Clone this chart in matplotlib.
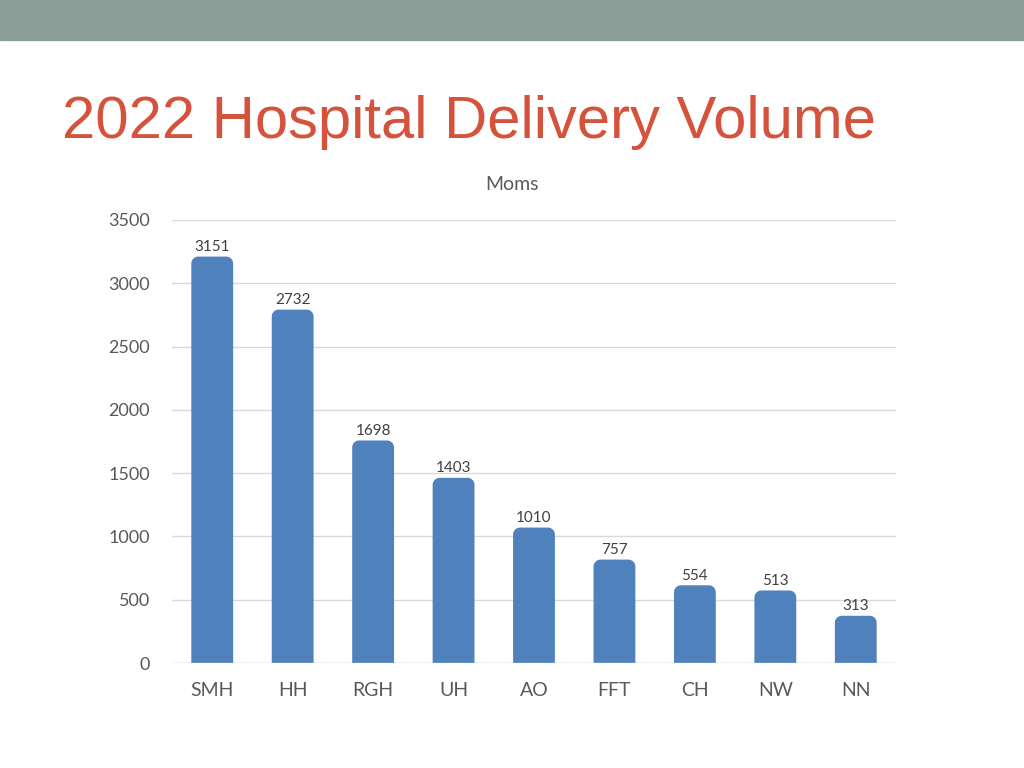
import numpy as np
import matplotlib.pyplot as plt
from matplotlib.patches import PathPatch, Rectangle
from matplotlib.path import Path

# data
hospitals = ["SMH", "HH", "RGH", "UH", "AO", "FFT", "CH", "NW", "NN"]
moms = [3151, 2732, 1698, 1403, 1010, 757, 554, 513, 313]
yticks = [0, 500, 1000, 1500, 2000, 2500, 3000, 3500]

bar_color = "#4F81BD"
cap = 60  # rounded top drawn above the value, like the source

fig = plt.figure(figsize=(10.24, 7.68), dpi=100)
fig.patches.append(Rectangle((0, 1 - 40 / 768), 1, 40 / 768, transform=fig.transFigure,
                             color="#8E9E98", zorder=0))
fig.text(62 / 1024, 1 - 138 / 768, "2022 Hospital Delivery Volume", fontsize=43,
         color="#D5533C", family="Liberation Sans", va="baseline")
fig.text(512 / 1024, 1 - 184 / 768, "Moms", fontsize=14, color="#595959",
         family="Lato", ha="center", va="center")

ax = fig.add_axes([172 / 1024, 1 - 663 / 768, 724 / 1024, 443 / 768])
x = np.arange(len(hospitals))
w = 0.52
ax.set_xlim(-0.5, len(hospitals) - 0.5)
ax.set_ylim(0, 3500)

# corner radius in data units (about 7 px)
rx = 7 / (724 / len(hospitals))
ry = 7 / (443 / 3500)
t = np.linspace(0, np.pi / 2, 12)


def rounded_bar(x0, x1, h):
    verts = [(x0, 0), (x1, 0), (x1, h - ry)]
    # top-right corner
    verts += [(x1 - rx + rx * np.cos(a), h - ry + ry * np.sin(a)) for a in t]
    # top-left corner
    verts += [(x0 + rx + rx * np.cos(a), h - ry + ry * np.sin(a)) for a in t + np.pi / 2]
    verts += [(x0, 0), (x0, 0)]
    codes = [Path.MOVETO] + [Path.LINETO] * (len(verts) - 2) + [Path.CLOSEPOLY]
    return Path(verts, codes)


for xi, v in zip(x, moms):
    h = v + cap
    ax.add_patch(PathPatch(rounded_bar(xi - w / 2, xi + w / 2, h), facecolor=bar_color,
                           edgecolor="none", zorder=3))
    ax.text(xi, h + 22, str(v), ha="center", va="bottom", fontsize=11,
            color="#404040", family="Lato")

ax.axhline(0, color="#D9D9D9", linewidth=1, zorder=4)
ax.set_yticks(yticks)
ax.set_yticklabels([str(t) for t in yticks], fontsize=13, color="#595959", family="Lato")
ax.set_xticks(x)
ax.set_xticklabels(hospitals, fontsize=14, color="#595959", family="Lato")
ax.tick_params(length=0)
ax.tick_params(axis="y", pad=16)
ax.tick_params(axis="x", pad=14)
ax.grid(axis="y", color="#D9D9D9", linewidth=1, zorder=0)
ax.set_axisbelow(True)
for s in ax.spines.values():
    s.set_visible(False)

plt.savefig("out.png", dpi=100)
